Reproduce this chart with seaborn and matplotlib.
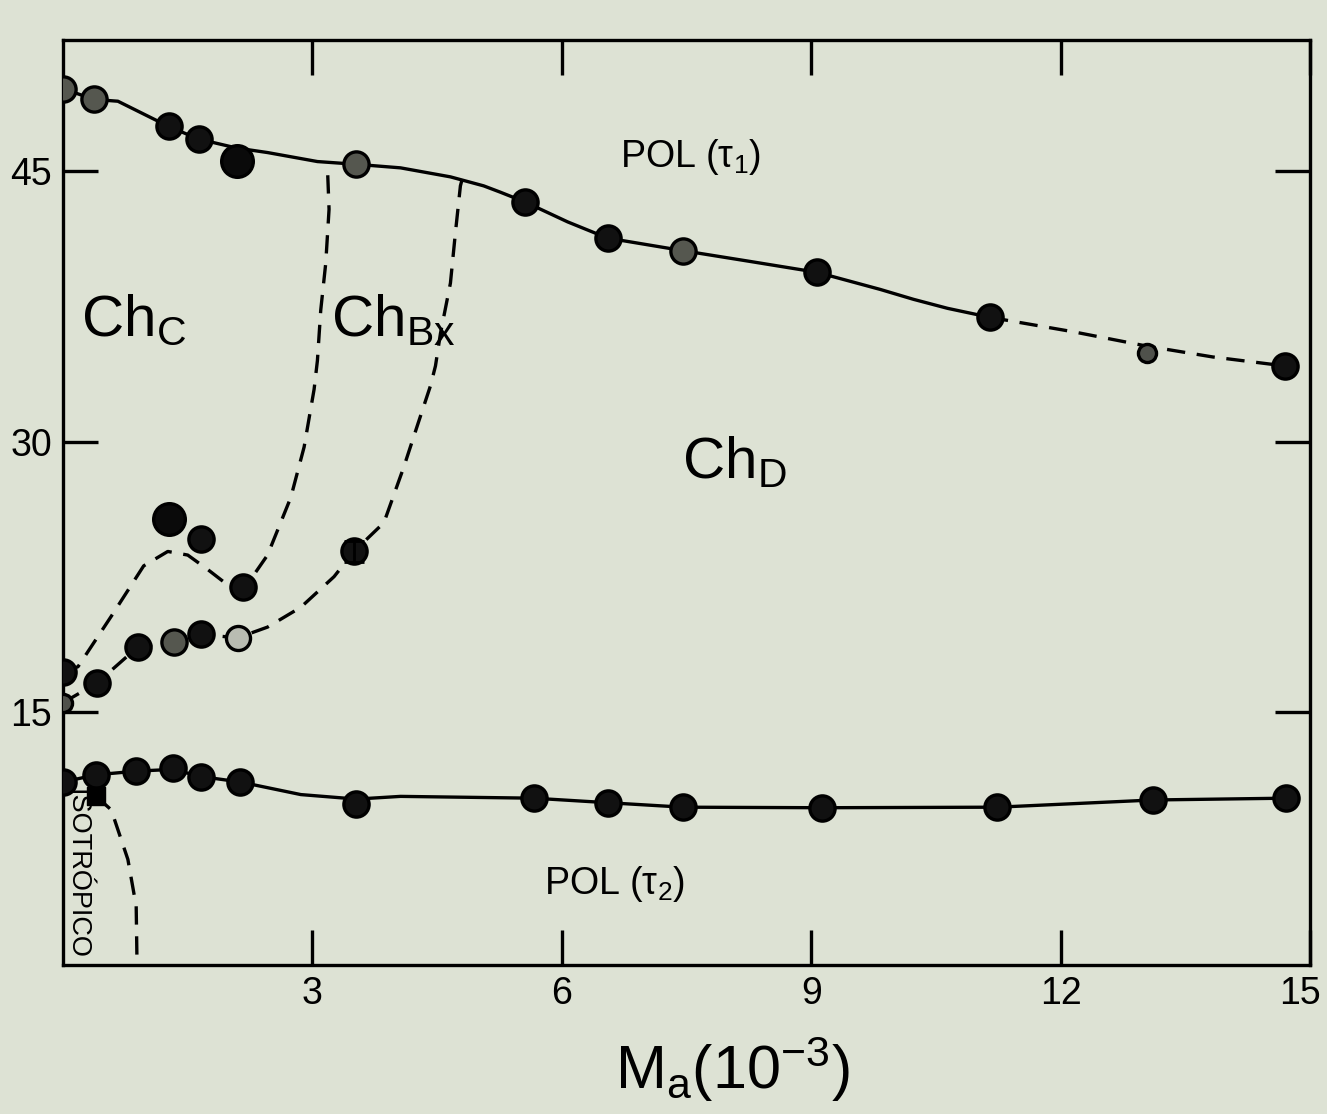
import matplotlib
matplotlib.use("Agg")
import matplotlib.pyplot as plt
import matplotlib.transforms as mtrans
import seaborn as sns
import pandas as pd

# ---- data (M_a in 10^-3, temperature in C) ----
# POL(t1) / cholesteric boundary, measured points
upper_x = [0.0, 0.37, 1.27, 1.63, 2.09, 3.52, 5.56, 6.55, 7.46, 9.07, 11.15, 13.04, 14.70]
upper_y = [49.6, 49.0, 47.5, 46.8, 45.6, 45.4, 43.3, 41.3, 40.6, 39.4, 36.9, 34.9, 34.2]
upper_kind = ["open", "open", "filled", "filled", "big", "open", "filled",
              "filled", "open", "filled", "filled", "small", "filled"]
# hand drawn curve through them (solid part, then dashed tail)
upper_line_x = [0.0, 0.37, 0.66, 1.27, 1.63, 2.09, 2.46, 3.06, 3.52, 4.06, 4.66,
                5.06, 5.26, 5.56, 6.07, 6.55, 7.46, 8.27, 9.07, 9.83, 10.23, 10.64, 11.15]
upper_line_y = [49.6, 49.0, 48.9, 47.5, 46.8, 46.3, 46.05, 45.55, 45.4, 45.2, 44.7,
                44.2, 43.85, 43.3, 42.2, 41.3, 40.6, 40.0, 39.4, 38.45, 37.9, 37.4, 36.9]
upper_tail_x = [11.15, 12.15, 13.04, 13.83, 14.70]
upper_tail_y = [36.9, 36.1, 35.3, 34.7, 34.2]

# POL(t2) / cholesteric boundary
lower_x = [0.0, 0.40, 0.88, 1.32, 1.66, 2.13, 3.53, 5.66, 6.55, 7.46, 9.13, 11.24, 13.11, 14.71]
lower_y = [11.1, 11.5, 11.7, 11.9, 11.4, 11.1, 9.9, 10.2, 9.95, 9.7, 9.67, 9.7, 10.1, 10.2]
lower_line_x = [0.0, 0.40, 0.88, 1.32, 1.66, 2.13, 2.86, 3.53, 4.06, 5.66, 6.55,
                7.46, 9.13, 11.24, 13.11, 14.71]
lower_line_y = [11.1, 11.5, 11.7, 11.8, 11.4, 11.1, 10.4, 10.15, 10.3, 10.2, 9.95,
                9.7, 9.67, 9.7, 10.1, 10.2]

# isotropic boundary (dashed)
iso_x = [0.40, 0.58, 0.78, 0.88, 0.89]
iso_y = [10.3, 9.55, 6.8, 4.2, 1.0]

# Ch_C / Ch_Bx boundary
chc_pts_x = [1.27, 1.66, 2.16]
chc_pts_y = [25.7, 24.6, 21.9]
chc_kind = ["big", "filled", "filled"]
chc_line_x = [0.0, 0.18, 0.58, 0.97, 1.26, 1.50, 1.74, 2.02, 2.22, 2.46, 2.74,
              2.90, 3.02, 3.06, 3.10, 3.16, 3.20, 3.18]
chc_line_y = [17.2, 17.5, 20.3, 23.1, 23.9, 23.7, 22.9, 21.9, 22.1, 23.7, 26.9,
              29.7, 32.9, 34.5, 37.3, 39.9, 42.9, 45.3]

# Ch_Bx / Ch_D boundary
chd_pts_x = [0.0, 0.0, 0.41, 0.90, 1.33, 1.66, 2.10, 3.50]
chd_pts_y = [17.2, 15.5, 16.6, 18.6, 18.9, 19.3, 19.1, 23.9]
chd_kind = ["filled", "small", "filled", "filled", "open", "filled", "light", "filled"]
chd_err = 0.6  # error bar on the point at 3.5
chd_line_x = [0.0, 0.41, 0.90, 1.33, 1.66, 2.10, 2.46, 2.86, 3.26, 3.50, 3.86,
              4.10, 4.27, 4.42, 4.48, 4.54, 4.66, 4.72, 4.78, 4.82]
chd_line_y = [15.5, 16.6, 18.6, 18.9, 19.3, 19.1, 19.7, 20.8, 22.5, 23.9, 25.5,
              28.6, 31.0, 33.1, 34.2, 36.0, 38.8, 41.6, 44.2, 44.9]

x_ticks = [3, 6, 9, 12, 15]
y_ticks = [15, 30, 45]

# ---- style ----
bg = "#dde2d4"
sns.set_style("white")
plt.rcParams["font.family"] = ["Liberation Sans", "DejaVu Sans"]
plt.rcParams["mathtext.default"] = "regular"
plt.rcParams["text.color"] = "black"
plt.rcParams["axes.labelcolor"] = "black"

fig = plt.figure(figsize=(13.27, 11.14), dpi=100, facecolor=bg)
ax = fig.add_axes([0.0475, 0.1338, 0.9397, 0.8303])
ax.set_facecolor(bg)

lw = 2.4
dash = (0, (5.5, 3.5))


def line(xs, ys, style="-"):
    sns.lineplot(x=xs, y=ys, ax=ax, sort=False, estimator=None, color="black",
                 linewidth=lw, linestyle=style, zorder=2)


line(upper_line_x, upper_line_y)
line(upper_tail_x, upper_tail_y, dash)
line(lower_line_x, lower_line_y)
line(iso_x, iso_y, dash)
line(chc_line_x, chc_line_y, dash)
line(chd_line_x, chd_line_y, dash)

pts = pd.DataFrame({
    "x": upper_x + lower_x + chc_pts_x + chd_pts_x,
    "y": upper_y + lower_y + chc_pts_y + chd_pts_y,
    "kind": upper_kind + ["filled"] * len(lower_x) + chc_kind + chd_kind,
})
looks = {
    "filled": dict(s=330, color="#111111", edgecolor="black"),
    "big": dict(s=520, color="#0a0a0a", edgecolor="black"),
    "open": dict(s=330, color="#55574f", edgecolor="black"),
    "light": dict(s=300, color="#b9bcb2", edgecolor="black"),
    "small": dict(s=170, color="#4f514b", edgecolor="black"),
}
for kind, kw in looks.items():
    sub = pts[pts["kind"] == kind]
    sns.scatterplot(data=sub, x="x", y="y", ax=ax, linewidth=2.4, zorder=3,
                    legend=False, **kw)

# isotropic start marker and error bar
ax.scatter([iso_x[0]], [iso_y[0]], marker="s", s=150, color="black", zorder=3)
ax.errorbar([chd_pts_x[-1]], [chd_pts_y[-1]], yerr=chd_err, fmt="none",
            ecolor="black", elinewidth=2, capsize=7, capthick=2, zorder=3)

# phase labels
big = 42
ax.text(0.22, 35.2, "Ch$_{C}$", fontsize=big, ha="left", va="bottom")
ax.text(3.22, 35.2, "Ch$_{Bx}$", fontsize=big, ha="left", va="bottom")
ax.text(7.45, 27.3, "Ch$_{D}$", fontsize=big, ha="left", va="bottom")
ax.text(6.7, 44.7, "POL (τ$_1$)", fontsize=27, ha="left", va="bottom")
ax.text(5.78, 4.3, "POL (τ$_2$)", fontsize=27, ha="left", va="bottom")
ax.text(0.16, 10.7, "ISOTRÓPICO", fontsize=19.5, rotation=-90, ha="center", va="top")

ax.set_xlim(0, 15)
ax.set_ylim(0.94, 52.3)
ax.set_xticks(x_ticks)
ax.set_xticklabels([str(t) for t in x_ticks])
ax.set_yticks(y_ticks)
ax.set_yticklabels([str(t) for t in y_ticks])
ax.tick_params(direction="in", length=25, width=lw, labelsize=27, pad=8,
               top=True, right=True, bottom=True, left=True, colors="black")
for sp in ax.spines.values():
    sp.set_visible(True)
    sp.set_linewidth(lw)
    sp.set_color("black")

# the "15" on the x axis sits at the right border, nudge it inward a little
lab15 = ax.get_xticklabels()[-1]
lab15.set_transform(lab15.get_transform() +
                    mtrans.ScaledTranslation(-7 / 72, 0, fig.dpi_scale_trans))

ax.set_xlabel("M$_a$(10$^{-3}$)", fontsize=44, labelpad=16, x=0.537)
ax.set_ylabel("")

fig.savefig("out.png", dpi=100, facecolor=bg)
